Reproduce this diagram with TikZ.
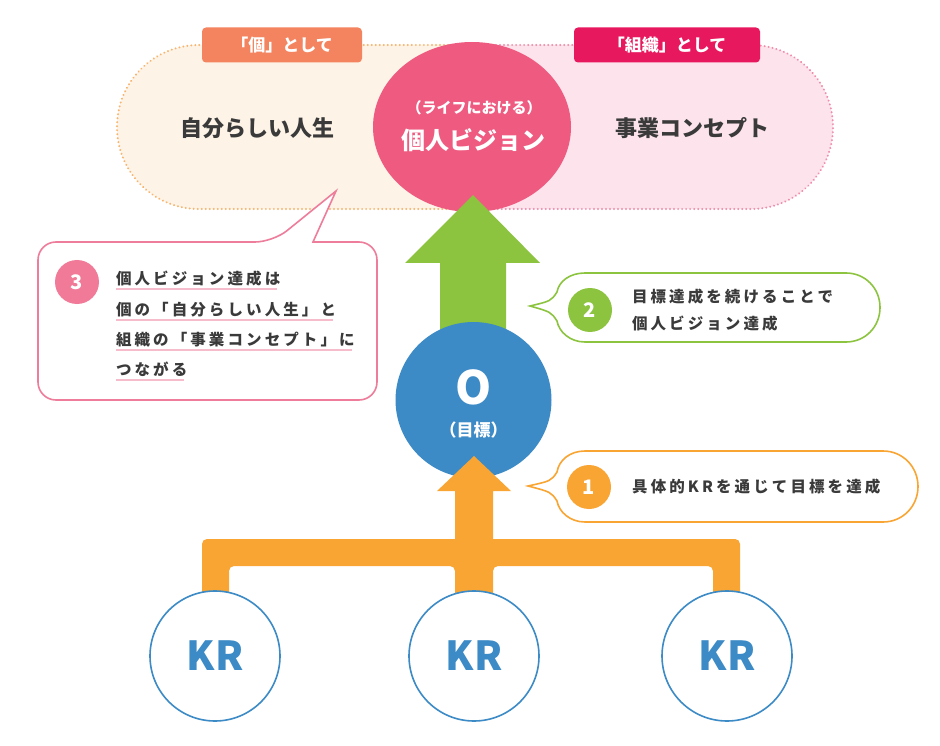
\documentclass[tikz,border=0pt]{standalone}
\usepackage{fontspec}
\setmainfont{Noto Sans CJK JP}
\newfontfamily\jp{Noto Sans CJK JP}
\usetikzlibrary{calc,shapes.geometric}
\definecolor{cream}{HTML}{FDF4E7}
\definecolor{pinkbg}{HTML}{FCE3EC}
\definecolor{dotorange}{HTML}{F8B46E}
\definecolor{dotpink}{HTML}{F08DAA}
\definecolor{visionpink}{HTML}{EE5A80}
\definecolor{tagorange}{HTML}{F3845F}
\definecolor{tagpink}{HTML}{E8185E}
\definecolor{arrgreen}{HTML}{8CC43F}
\definecolor{objblue}{HTML}{3C8AC6}
\definecolor{arrorange}{HTML}{F8A533}
\definecolor{callpink}{HTML}{EE7D9B}
\definecolor{numpink}{HTML}{F07A97}
\definecolor{ulpink}{HTML}{F7BCCB}
\definecolor{txt}{HTML}{3A3A3A}
\tikzset{
  tagbox/.style={fill=#1, rounded corners=4, minimum width=160, minimum height=35, inner sep=0, text=white, font=\jp\fontsize{17}{17}\selectfont\bfseries},
  bigtxt/.style={text=txt, font=\jp\fontsize{22}{22}\selectfont\bfseries, inner sep=0},
  numdot/.style={circle, fill=#1, minimum size=44, inner sep=0, text=white, font=\jp\fontsize{20}{20}\selectfont\bfseries},
  calltxt/.style={text=txt, anchor=base west, inner sep=0, outer sep=0, font=\jp\fontsize{15.5}{15.5}\selectfont\bfseries\addfontfeature{LetterSpace=20}},
  krnode/.style={circle, draw=objblue, line width=1.6, fill=white, minimum size=130, inner sep=0, text=objblue, font=\jp\fontsize{40}{40}\selectfont\bfseries},
  ul/.style={ulpink, line width=1.6},
  dotline/.style={#1, line width=2.2, dash pattern=on 0.01pt off 4pt, line cap=round, rounded corners=82}
}
\begin{document}
\begin{tikzpicture}[x=1pt,y=-1pt]
\useasboundingbox (0,0) rectangle (940,746);
\fill[white] (0,0) rectangle (940,746);
% background pill
\fill[cream, rounded corners=82] (117,45) rectangle (560,209);
\fill[pinkbg, rounded corners=82] (390,45) rectangle (833,209);
\fill[pinkbg] (472,45) rectangle (600,209);
\fill[cream] (300,45) rectangle (472,209);
\draw[dotline=dotorange] (472,45) -- (117,45) -- (117,209) -- (472,209);
\draw[dotline=dotpink] (472,45) -- (833,45) -- (833,209) -- (472,209);
% tags
\node[tagbox=tagorange] (tag1) at (282,45) {「個」として};
\node[tagbox=tagpink, minimum width=186] (tag2) at (667,45) {「組織」として};
% texts in pill
\node[bigtxt] (self) at (257,128) {自分らしい人生};
\node[bigtxt] (biz) at (692,128) {事業コンセプト};
% vision ellipse
\node[ellipse, fill=visionpink, minimum width=198, minimum height=170, inner sep=0] (vision) at (472,127) {};
\node[text=white, inner sep=0, font=\jp\fontsize{15}{15}\selectfont\bfseries] (lifet) at (474,108) {（ライフにおける）};
\node[text=white, inner sep=0, font=\jp\fontsize{24}{24}\selectfont\bfseries] (visiont) at (473,140) {個人ビジョン};
% green arrow
\fill[arrgreen] (473,195) -- (540,263) -- (506,263) -- (506,340) -- (440,340) -- (440,263) -- (405,263) -- cycle;
% objective circle
\node[circle, fill=objblue, minimum size=156, inner sep=0] (obj) at (473.5,400) {};
\node[text=white, inner sep=0, font=\jp\fontsize{46}{46}\selectfont\bfseries] (objO) at (473.5,387) {O};
\node[text=white, inner sep=0, font=\jp\fontsize{17}{17}\selectfont\bfseries] (objt) at (473.5,430) {（目標）};
% orange tree + arrow
\fill[arrorange, rounded corners=5] (202,600) -- (202,539) -- (740,539) -- (740,600) -- (713,600) -- (713,566) -- (493,566) -- (493,600) -- (455,600) -- (455,566) -- (229,566) -- (229,600) -- cycle;
\fill[arrorange] (474,456) -- (511,491) -- (493,491) -- (493,545) -- (455,545) -- (455,491) -- (437,491) -- cycle;
% KR nodes
\node[krnode] (kr1) at (215,656) {KR};
\node[krnode] (kr2) at (474,656) {KR};
\node[krnode] (kr3) at (727,656) {KR};
% callout 1 (orange)
\draw[arrorange, line width=1.6, fill=white]
  (585,451) -- (883,451) .. controls (903,451) and (918,467) .. (918,486.5) .. controls (918,506) and (903,522) .. (883,522) -- (585,522)
  .. controls (570,522) and (559,512) .. (557,501) .. controls (551,492) .. (528,486)
  .. controls (551,481) .. (557,472) .. controls (559,460) and (570,451) .. (585,451) -- cycle;
\node[numdot=arrorange] (n1) at (589,487) {1};
\node[text=txt, anchor=west, inner sep=0, font=\jp\fontsize{15.5}{15.5}\selectfont\bfseries\addfontfeature{LetterSpace=20}] (c1t) at (632,487) {具体的KRを通じて目標を達成};
% callout 2 (green)
\draw[arrgreen, line width=1.6, fill=white]
  (585,273) -- (846,273) .. controls (865,273) and (880,288) .. (880,307.5) .. controls (880,327) and (865,342) .. (846,342) -- (585,342)
  .. controls (570,342) and (559,332) .. (557,321) .. controls (551,312) .. (530,306)
  .. controls (551,301) .. (557,292) .. controls (559,281) and (570,273) .. (585,273) -- cycle;
\node[numdot=arrgreen] (n2) at (590,310) {2};
\node[calltxt] (c2a) at (632,302) {目標達成を続けることで};
\node[calltxt] (c2b) at (632,329) {個人ビジョン達成};
% callout 3 (pink)
\draw[callpink, line width=1.6, fill=white, rounded corners=18]
  (38,242) -- (273,242) [sharp corners] -- (336,191) -- (313,242) [rounded corners=18] -- (377,242) -- (377,400) -- (38,400) -- cycle;
\node[numdot=numpink] (n3) at (77,282) {3};
\node[calltxt] (c3a) at (116,284) {個人ビジョン達成は};
\node[calltxt] (c3b) at (116,315) {個の「自分らしい人生」と};
\node[calltxt] (c3c) at (116,345) {組織の「事業コンセプト」に};
\node[calltxt] (c3d) at (116,375) {つながる};
\foreach \n in {c3a,c3b,c3c,c3d}{
  \draw[ul] ([yshift=-5]\n.base west) -- ([yshift=-5,xshift=-3]\n.base east);
}
\end{tikzpicture}
\end{document}
